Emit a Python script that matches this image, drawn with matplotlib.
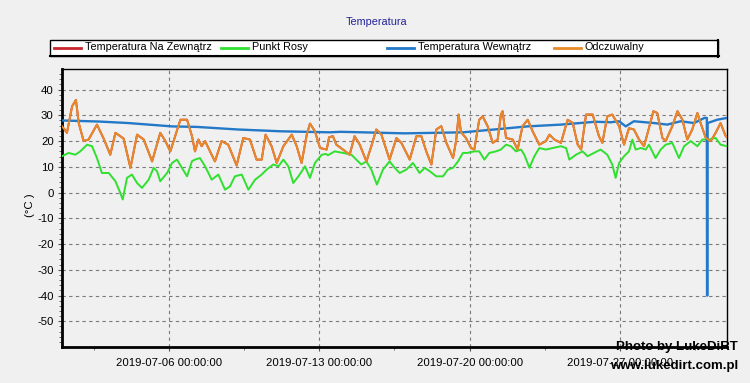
import matplotlib
matplotlib.use('Agg')
import matplotlib.pyplot as plt
from matplotlib.lines import Line2D
from matplotlib.patches import Rectangle
import pandas as pd

# ---------------- data (days since 2019-07-01 00:00, values in degC) -------------
start_date = '2019-07-01'

feels_days = [0, 0.23, 0.47, 0.65, 0.78, 1.01, 1.24, 1.63, 1.94, 2.25, 2.49, 2.87, 3.19, 3.5,
              3.81, 4.2, 4.58, 4.82, 5.05, 5.52, 5.83, 6.06, 6.2, 6.36, 6.51, 6.67, 6.9, 7.13,
              7.44, 7.75, 8.14, 8.45, 8.76, 9.07, 9.31, 9.49, 9.77, 10.01, 10.32, 10.71, 10.94,
              11.17, 11.41, 11.56, 11.79, 12.03, 12.34, 12.45, 12.63, 12.79, 13.1, 13.41, 13.64,
              13.88, 14.19, 14.42, 14.65, 14.89, 15.27, 15.59, 15.82, 16.21, 16.52, 16.75, 16.98,
              17.22, 17.45, 17.68, 17.92, 18.23, 18.38, 18.49, 18.6, 18.83, 19.07, 19.22, 19.45,
              19.61, 19.84, 20.08, 20.31, 20.46, 20.54, 20.7, 21.01, 21.24, 21.47, 21.71, 21.94,
              22.25, 22.56, 22.72, 22.95, 23.26, 23.57, 23.81, 24.04, 24.2, 24.43, 24.74, 25.03,
              25.19, 25.42, 25.65, 25.97, 26.2, 26.43, 26.66, 26.9, 27.13, 27.36, 27.57, 27.75,
              27.99, 28.14, 28.45, 28.69, 28.92, 29.15, 29.38, 29.62, 29.77, 30.01, 30.24, 30.47,
              30.7, 30.94, 31.0]
feels_vals = [25.8, 23.2, 33.5, 36.0, 27.0, 20.0, 20.6, 26.4, 21.0, 14.7, 23.2, 21.0, 9.6, 22.5,
              20.6, 12.1, 23.2, 20.0, 16.0, 28.3, 28.3, 21.9, 16.0, 20.6, 18.0, 20.0, 16.0, 12.1,
              20.0, 18.6, 10.5, 21.2, 20.6, 12.8, 12.8, 22.5, 18.0, 11.5, 18.0, 22.5, 18.0,
              11.5, 22.5, 26.8, 23.8, 17.3, 16.7, 21.5, 21.9, 18.6, 16.7, 14.7, 21.9,
              18.6, 12.1, 18.0, 24.5, 22.5, 12.8, 21.2, 19.3, 12.8, 21.9, 21.9, 16.0,
              10.9, 24.5, 25.8, 19.3, 13.4, 20.6, 30.3, 23.5, 21.2, 17.3, 16.7, 28.3,
              29.6, 25.8, 19.3, 20.6, 30.3, 31.6, 21.2, 20.6, 16.7, 25.8, 28.3, 23.8,
              18.6, 20.0, 22.5, 20.6, 19.3, 28.3, 27.0, 18.6, 16.7, 30.3, 30.3, 21.9,
              19.3, 29.6, 30.3, 25.8, 18.6, 25.0, 24.5, 20.6, 18.0, 25.0, 31.6, 30.9,
              21.2, 20.0, 25.8, 31.6, 28.3, 20.6, 24.5, 30.9, 27.0, 21.2, 20.0, 23.2,
              27.0, 21.9, 21.5]

# outdoor temperature equals the felt temperature here (hidden under it)
outdoor_days = feels_days
outdoor_vals = feels_vals

dew_days = [0, 0.31, 0.62, 0.85, 1.17, 1.4, 1.63, 1.86, 2.18, 2.49, 2.72, 2.83, 3.03, 3.26, 3.5,
            3.73, 4.04, 4.27, 4.43, 4.58, 4.9, 5.13, 5.36, 5.59, 5.83, 6.06, 6.2, 6.43, 6.67,
            6.98, 7.29, 7.6, 7.83, 8.06, 8.38, 8.69, 9.0, 9.31, 9.54, 9.85, 10.09, 10.32, 10.55,
            10.78, 11.02, 11.33, 11.56, 11.79, 12.11, 12.3, 12.4, 12.71, 13.1, 13.49, 13.72,
            13.95, 14.19, 14.42, 14.68, 14.96, 15.27, 15.51, 15.74, 16.05, 16.36, 16.67, 16.91,
            17.14, 17.45, 17.76, 17.99, 18.23, 18.46, 18.69, 18.91, 19.22, 19.45, 19.69, 19.92,
            20.23, 20.46, 20.7, 20.93, 21.16, 21.4, 21.55, 21.79, 22.02, 22.25, 22.56, 22.87,
            23.26, 23.5, 23.65, 23.96, 24.27, 24.5, 24.8, 25.11, 25.42, 25.65, 25.81, 25.97,
            26.2, 26.43, 26.59, 26.74, 26.98, 27.21, 27.36, 27.67, 27.91, 28.14, 28.45, 28.76,
            29.0, 29.31, 29.62, 29.85, 30.16, 30.47, 30.7, 31.0]
dew_vals = [14.1, 15.4, 14.7, 16.0, 18.6, 18.0, 13.4, 7.6, 7.6, 4.4, -0.2, -2.7, 5.7, 7.0, 3.7,
            1.8, 5.0, 9.6, 8.3, 4.4, 7.6, 11.5, 12.8, 9.6, 6.3, 12.2, 12.8, 13.4, 10.2,
            5.0, 7.0, 1.1, 2.4, 6.3, 7.0, 1.1, 5.0, 7.0, 8.9, 10.9, 10.2, 12.8, 10.2,
            3.7, 6.3, 10.2, 5.7, 11.5, 14.7, 15.0, 14.5, 16.0, 15.4, 14.7, 12.8,
            10.9, 12.1, 8.9, 3.1, 8.9, 12.1, 9.6, 7.6, 8.9, 11.5, 7.6, 9.6,
            8.3, 6.3, 6.3, 8.9, 9.6, 12.1, 15.4, 15.4, 16.0, 16.0, 12.8, 15.4,
            16.0, 16.7, 18.6, 18.0, 16.0, 16.7, 14.7, 9.6, 14.1, 17.3, 16.7, 17.3,
            18.0, 17.3, 12.8, 14.7, 16.0, 14.1, 15.4, 16.7, 14.7, 10.9, 5.7, 11.5,
            14.1, 16.0, 20.6, 16.7, 17.3, 16.7, 18.6, 13.4, 16.7, 18.6, 19.3, 13.4,
            18.0, 20.0, 18.0, 20.6, 20.6, 21.2, 18.6, 18.0]

indoor_days = [0, 1.7, 3.1, 5.13, 6.29, 8.2, 10.2, 12.49, 13.0, 15.97, 18.69, 20.15, 21.7, 23.26,
               24.86, 25.58, 25.97, 26.28, 26.66, 27.6, 28.22, 28.84, 29.46, 29.95, 30.06,
               30.07, 30.085, 30.095, 30.55, 31.0]
indoor_vals = [28.0, 27.6, 27.0, 25.7, 25.5, 24.5, 23.8, 23.4, 23.6, 23.0, 23.4, 24.5, 25.7, 26.4,
               27.5, 27.3, 27.7, 25.7, 27.7, 27.0, 26.4, 27.7, 27.0, 29.0, 29.0,
               -40.0, -40.0, 27.0, 28.3, 29.0]

series_labels = ['Temperatura Na Zewnątrz', 'Punkt Rosy', 'Temperatura Wewnątrz', 'Odczuwalny']
series_colors = ['#c8262c', '#2fe02f', '#2378c8', '#e88a28']
title_text = 'Temperatura'
ylabel_text = '(°C )'
yticks = [-50, -40, -30, -20, -10, 0, 10, 20, 30, 40]
xticks = ['2019-07-06', '2019-07-13', '2019-07-20', '2019-07-27']
watermark = ['Photo by LukeDiRT', 'www.lukedirt.com.pl']

# ---------------- drawing ----------------
plt.rcParams['font.family'] = ['Liberation Sans', 'DejaVu Sans']
plt.rcParams['axes.unicode_minus'] = False
BG = '#f0f0f0'
FS = 7.8

W, H = 750, 383
fig = plt.figure(figsize=(W / 100, H / 100), dpi=100, facecolor=BG)


def fx(px):
    return px / W


def fy(py):
    return 1 - py / H


ax = fig.add_axes([fx(62), fy(347), fx(727) - fx(62), fy(69) - fy(347)])
ax.set_facecolor(BG)

base = pd.Timestamp(start_date)


def to_time(days):
    return base + pd.to_timedelta(days, unit='D')


lw = 1.4
ax.plot(to_time(outdoor_days), outdoor_vals, color=series_colors[0], lw=lw, zorder=2)
ax.plot(to_time(dew_days), dew_vals, color=series_colors[1], lw=lw, zorder=3)
ax.plot(to_time(indoor_days), indoor_vals, color=series_colors[2], lw=lw + 0.3, zorder=4)
ax.plot(to_time(feels_days), feels_vals, color=series_colors[3], lw=lw, zorder=5)

ax.set_xlim(base, base + pd.Timedelta(days=31))
ax.set_ylim(-60, 48)
ax.set_yticks(yticks)
ax.set_yticks([v for v in range(-58, 48, 2)], minor=True)
major_x = [pd.Timestamp(t) for t in xticks]
ax.set_xticks(major_x)
ax.set_xticklabels([t.strftime('%Y-%m-%d %H:%M:%S') for t in major_x])
minor_x = [base + pd.Timedelta(days=1.5 + 3.5 * k) for k in range(9)]
ax.set_xticks(minor_x, minor=True)

ax.tick_params(axis='both', which='major', labelsize=FS + 0.4, length=3, width=0.8,
               color='#555555')
ax.tick_params(axis='both', which='minor', length=2, width=0.6, color='#555555')
ax.tick_params(axis='x', pad=5)
ax.tick_params(axis='y', pad=3)

ax.grid(True, which='major', linestyle=(0, (3, 3)), color='#7a7a7a', linewidth=0.8)
for side in ['left', 'bottom']:
    ax.spines[side].set_linewidth(2.0)
for side in ['top', 'right']:
    ax.spines[side].set_linewidth(1.0)
for s in ax.spines.values():
    s.set_color('black')

fig.text(fx(30), fy(205), ylabel_text, rotation=90, ha='center', va='center', fontsize=FS + 0.4)

# title
fig.text(fx(376), fy(22), title_text, ha='center', va='center', fontsize=FS, color='#23239a')

# legend box
fig.patches.append(Rectangle((fx(50), fy(56)), fx(718) - fx(50), fy(40) - fy(56),
                             transform=fig.transFigure, facecolor='#ffffff',
                             edgecolor='black', linewidth=1.0, zorder=1))
fig.add_artist(Line2D([fx(50), fx(719)], [fy(56.3), fy(56.3)], transform=fig.transFigure,
                      color='black', lw=1.5))
fig.add_artist(Line2D([fx(718.3), fx(718.3)], [fy(40), fy(56.5)], transform=fig.transFigure,
                      color='black', lw=1.5))
entry_x = [54, 220.5, 387, 553.5]
for lx, lab, col in zip(entry_x, series_labels, series_colors):
    fig.add_artist(Line2D([fx(lx), fx(lx + 27)], [fy(47.5), fy(47.5)],
                          transform=fig.transFigure, color=col, lw=2))
    fig.text(fx(lx + 31), fy(47.5), lab, ha='left', va='center', fontsize=FS)

# watermark
fig.text(fx(738), fy(347), watermark[0], ha='right', va='center', fontsize=9.5,
         fontweight='bold', zorder=10)
fig.text(fx(738), fy(366), watermark[1], ha='right', va='center', fontsize=9.5,
         fontweight='bold', zorder=10)

fig.savefig('out.png', dpi=100, facecolor=BG)
